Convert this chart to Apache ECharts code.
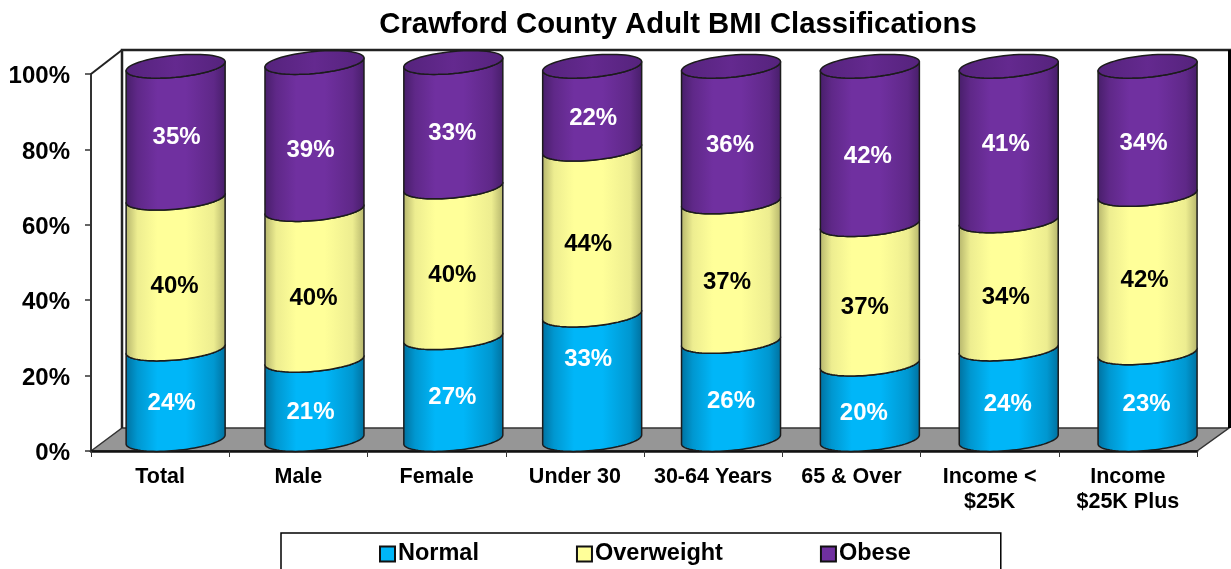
<!DOCTYPE html>
<html><head><meta charset="utf-8">
<style>html,body{margin:0;padding:0;background:#fff;overflow:hidden}#c{width:1231px;height:569px}</style>
<script src="https://cdn.jsdelivr.net/npm/echarts@6/dist/echarts.min.js"></script>
</head><body><div id="c"></div>
<script>
const categories = ['Total','Male','Female','Under 30','30-64 Years','65 & Over','Income <\n$25K','Income\n$25K Plus'];
const normal     = [24,21,27,33,26,20,24,23];
const overweight = [40,40,40,44,37,37,34,42];
const obese      = [35,39,33,22,36,42,41,34];
const yTicks = {min:0,max:100,interval:20};

const FONT = '"Liberation Sans", Arial, sans-serif';
const DX = 15.5, DY = -11.5, A = 49.5, B = 11, SK = 4.5, DRIFT = 0.6;
// The reference's labels were placed by hand: small per-label nudges.
const nudgeNormal = [[-1,1],[-1,4],[2,1],[-1,-26],[3,3],[-3,4],[2,2],[2,0]];
const nudgeOverweight = [[0,3],[0,3],[0,3],[-3,2],[-3,1],[-4,3],[-2,2],[-2,-3]];
const nudgeObese = [[0,-3],[-5,6],[-2,1],[0,3],[-2,3],[-3,3],[-4,-7],[-5,5]];

function arc(cx, cy, from, to, n) {
  const pts = [];
  for (let i = 0; i <= n; i++) {
    const t = from + (to - from) * i / n;
    pts.push([cx + A * Math.cos(t), cy - SK * Math.cos(t) + B * Math.sin(t)]);
  }
  return pts;
}
function grad(edge, soft, mid) {
  return {type:'linear',x:0,y:0,x2:1,y2:0,colorStops:[
    {offset:0,color:edge},{offset:.12,color:soft},{offset:.32,color:mid},{offset:.6,color:mid},{offset:.88,color:soft},{offset:1,color:edge}]};
}
const layers = [
  {name:'Normal', vals:normal, base:[], color:'#00B6F8', soft:'#0097D0', edge:'#00709E', text:'#fff', dx:-3, dy:8, nudge:nudgeNormal},
  {name:'Overweight', vals:overweight, base:[normal], color:'#FFFF99', soft:'#EDED90', edge:'#B4B46C', text:'#000', dx:-1, dy:10, nudge:nudgeOverweight},
  {name:'Obese', vals:obese, base:[normal,overweight], color:'#7030A0', soft:'#5F2888', edge:'#471E69', text:'#fff', dx:1, dy:8, nudge:nudgeObese}
];
function makeSeries(L, idx) {
  return {
    name:L.name, type:'custom', coordinateSystem:'cartesian2d', clip:false, z:5+idx,
    itemStyle:{color:L.color},
    encode:{x:0,y:[1,2]},
    data:categories.map((c,i)=>{
      const lo=L.base.reduce((s,a)=>s+a[i],0);
      return [i,lo,lo+L.vals[i],L.vals[i]];
    }),
    renderItem(params, api){
      const i=api.value(0);
      const p0=api.coord([i,api.value(1)]);
      const p1=api.coord([i,api.value(2)]);
      const cx=p0[0]+DX+i*DRIFT, y0=p0[1]+DY, y1=p1[1]+DY;
      const front0=arc(cx,y0,Math.PI,0,40);
      const front1=arc(cx,y1,0,Math.PI,40);
      const kids=[{type:'polygon',shape:{points:front0.concat(front1)},
        style:{fill:grad(L.edge,L.soft,L.color),stroke:'#1c1c1c',lineWidth:1.5,lineJoin:'round'}}];
      if(idx===2){
        kids.push({type:'polygon',shape:{points:arc(cx,y1,0,Math.PI*2,60)},
          style:{fill:{type:'linear',x:0,y:0,x2:1,y2:0,colorStops:[{offset:0,color:'#55237C'},{offset:.5,color:'#64298F'},{offset:1,color:'#55237C'}]},stroke:'#1c1c1c',lineWidth:1.5}});
      }
      const n=L.nudge[i];
      kids.push({type:'text',style:{text:api.value(3)+'%',x:cx+L.dx+n[0],y:(y0+y1)/2+L.dy+n[1],align:'center',verticalAlign:'middle',
        fill:L.text,font:'bold 24px '+FONT}});
      return {type:'group',children:kids};
    }
  };
}
const chart = echarts.init(document.getElementById('c'),null,{renderer:'canvas'});
chart.setOption({
  animation:false,
  backgroundColor:'#fff',
  title:{text:'Crawford County Adult BMI Classifications',left:673,top:5,textAlign:'center',
    textStyle:{fontFamily:FONT,fontWeight:'bold',fontSize:29.3,color:'#000'}},
  grid:{left:91,right:34,top:74,bottom:118,containLabel:false},
  xAxis:{type:'category',data:categories,boundaryGap:true,
    axisLine:{show:true,lineStyle:{color:'#111',width:2.5}},
    axisTick:{show:true,alignWithLabel:false,length:6,lineStyle:{color:'#333',width:1}},
    axisLabel:{interval:0,margin:14,color:'#000',fontFamily:FONT,fontWeight:'bold',fontSize:21.5,lineHeight:25,hideOverlap:false}},
  yAxis:{type:'value',min:yTicks.min,max:yTicks.max,interval:yTicks.interval,
    axisLine:{show:true,lineStyle:{color:'#333',width:2}},
    axisTick:{show:true,length:6,lineStyle:{color:'#333',width:1.5}},
    splitLine:{show:false},
    axisLabel:{formatter:'{value}%',margin:21,color:'#000',fontFamily:FONT,fontWeight:'bold',fontSize:24,verticalAlign:'top',lineHeight:5}},
  legend:{data:layers.map(l=>({name:l.name,icon:'rect'})),left:281,top:533,orient:'horizontal',
    padding:[9,90,20,98],itemGap:97,itemWidth:15,itemHeight:15,
    borderColor:'#000',borderWidth:1.5,backgroundColor:'#fff',
    itemStyle:{borderColor:'#111',borderWidth:2},
    textStyle:{fontFamily:FONT,fontWeight:'bold',fontSize:23.5,color:'#000',padding:[0,0,0,-2]},
    selectedMode:false},
  graphic:[
    {type:'polygon',z:0,silent:true,shape:{points:[[91,451],[122,428],[1229,428],[1197,451]]},
      style:{fill:'#969696',stroke:'#333',lineWidth:1.5}},
    {type:'polyline',z:1,silent:true,shape:{points:[[122,428],[122,50],[1231,50]]},
      style:{fill:null,stroke:'#222',lineWidth:2.5}},
    {type:'polyline',z:1,silent:true,shape:{points:[[91,74],[122,50]]},
      style:{fill:null,stroke:'#222',lineWidth:2}},
    {type:'polyline',z:1,silent:true,shape:{points:[[1229.5,50],[1229.5,428]]},
      style:{fill:null,stroke:'#000',lineWidth:3}}
  ],
  series:layers.map(makeSeries)
});
</script></body></html>
